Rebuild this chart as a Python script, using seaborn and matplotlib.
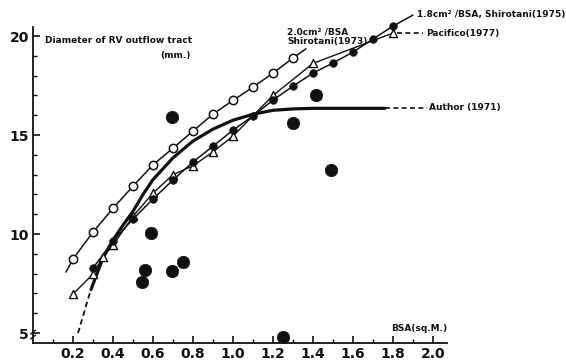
import matplotlib
matplotlib.use("Agg")
import matplotlib.pyplot as plt
import seaborn as sns

# ---- data ----
# 2.0 cm2/BSA, Shirotani (1973) - open circles
shiro73_bsa = [0.2, 0.3, 0.4, 0.5, 0.6, 0.7, 0.8, 0.9, 1.0, 1.1, 1.2, 1.3]
shiro73_d = [8.74, 10.1, 11.3, 12.42, 13.5, 14.34, 15.2, 16.06, 16.75, 17.42, 18.13, 18.89]
shiro73_start = (0.165, 8.08)
shiro73_end = (1.365, 19.36)

# 1.8 cm2/BSA, Shirotani (1975) - small filled circles
shiro75_bsa = [0.3, 0.4, 0.5, 0.6, 0.7, 0.8, 0.9, 1.0, 1.1, 1.2, 1.3, 1.4, 1.5, 1.6, 1.7, 1.8]
shiro75_d = [8.28, 9.65, 10.76, 11.77, 12.73, 13.64, 14.44, 15.25, 15.96, 16.77,
             17.47, 18.13, 18.64, 19.19, 19.85, 20.5]
shiro75_end = (1.9, 21.06)

# Pacifico (1977) - open triangles
pacif_bsa = [0.2, 0.3, 0.35, 0.4, 0.5, 0.6, 0.7, 0.8, 0.9, 1.0, 1.2, 1.4, 1.8]
pacif_d = [6.97, 7.98, 8.84, 9.44, 10.9, 12.07, 13.0, 13.45, 14.15, 14.95, 17.0, 18.62, 20.15]
pacif_tail_x = [1.82, 1.95]
pacif_tail_y = [20.15, 20.15]

# Author (1971) - thick curve
author_bsa = [0.29, 0.32, 0.35, 0.4, 0.45, 0.5, 0.55, 0.6, 0.65, 0.7, 0.8, 0.9,
              1.0, 1.1, 1.2, 1.3, 1.4, 1.76]
author_d = [7.2, 8.0, 8.8, 9.7, 10.45, 11.15, 12.0, 12.75, 13.3, 13.85, 14.7, 15.3,
            15.75, 16.05, 16.25, 16.32, 16.35, 16.35]
author_low_x = [0.225, 0.25, 0.27, 0.29]
author_low_y = [5.0, 5.85, 6.55, 7.2]
author_tail_x = [1.76, 1.97]
author_tail_y = [16.35, 16.35]

# individual patients - large dots
pat_bsa = [0.695, 0.59, 0.56, 0.545, 0.695, 0.75, 1.415, 1.3, 1.49, 1.25]
pat_d = [15.91, 10.07, 8.2, 7.57, 8.14, 8.58, 17.02, 15.6, 13.23, 4.8]

# ---- figure ----
sns.set_style("ticks")
plt.rcParams["font.family"] = ["DejaVu Sans"]
plt.rcParams["font.weight"] = "bold"

fig = plt.figure(figsize=(5.66, 3.6), dpi=100)
ax = fig.add_axes([33 / 566, 17 / 360, 533 / 566, 343 / 360])
ax.set_facecolor("white")
ink = "#111111"

# lines
sns.lineplot(x=[shiro73_start[0]] + shiro73_bsa + [shiro73_end[0]],
             y=[shiro73_start[1]] + shiro73_d + [shiro73_end[1]],
             ax=ax, color=ink, linewidth=1.1, sort=False, estimator=None)
sns.lineplot(x=shiro75_bsa + [shiro75_end[0]], y=shiro75_d + [shiro75_end[1]], ax=ax,
             color=ink, linewidth=1.1, sort=False, estimator=None)
sns.lineplot(x=pacif_bsa, y=pacif_d, ax=ax, color=ink, linewidth=1.0,
             sort=False, estimator=None)
sns.lineplot(x=pacif_tail_x, y=pacif_tail_y, ax=ax, color=ink, linewidth=1.2,
             linestyle=(0, (3, 2)), sort=False, estimator=None)
sns.lineplot(x=author_bsa, y=author_d, ax=ax, color=ink, linewidth=2.3,
             sort=False, estimator=None)
sns.lineplot(x=author_low_x, y=author_low_y, ax=ax, color=ink, linewidth=1.3,
             linestyle=(0, (3, 2)), sort=False, estimator=None)
sns.lineplot(x=author_tail_x, y=author_tail_y, ax=ax, color=ink, linewidth=1.2,
             linestyle=(0, (3, 2)), sort=False, estimator=None)

# markers
sns.scatterplot(x=shiro73_bsa, y=shiro73_d, ax=ax, s=36, color="white",
                edgecolor=ink, linewidth=1.1, zorder=4)
sns.scatterplot(x=pacif_bsa, y=pacif_d, ax=ax, s=34, marker="^", color="white",
                edgecolor=ink, linewidth=1.0, zorder=4)
sns.scatterplot(x=shiro75_bsa, y=shiro75_d, ax=ax, s=30, color=ink,
                edgecolor=ink, linewidth=0.5, zorder=5)
sns.scatterplot(x=pat_bsa, y=pat_d, ax=ax, s=80, color=ink, edgecolor=ink,
                linewidth=0.5, zorder=5, clip_on=False)

# annotations
tkw = dict(fontsize=6.5, fontweight="bold", color=ink, va="center", ha="left")
ax.text(0.06, 19.8, "Diameter of RV outflow tract", **tkw)
ax.text(0.635, 19.04, "(mm.)", **tkw)
ax.text(1.27, 20.2, "2.0cm² /BSA", **tkw)
ax.text(1.27, 19.7, "Shirotani(1973)", **tkw)
ax.text(1.92, 21.08, "1.8cm² /BSA, Shirotani(1975)", **tkw)
ax.text(1.965, 20.15, "Pacifico(1977)", **tkw)
ax.text(1.98, 16.38, "Author (1971)", **tkw)
ax.text(1.79, 5.25, "BSA(sq.M.)", **tkw)

# axes
ax.set_xlim(0, 2.665)
ax.set_ylim(4.5, 21.82)
sns.despine(ax=ax)
ax.spines["bottom"].set_bounds(0, 2.07)
ax.spines["left"].set_bounds(4.5, 20.45)
for sp in ("bottom", "left"):
    ax.spines[sp].set_linewidth(1.3)
    ax.spines[sp].set_color(ink)

ax.set_xticks([0.2, 0.4, 0.6, 0.8, 1.0, 1.2, 1.4, 1.6, 1.8, 2.0])
ax.set_xticks([0.1, 0.3, 0.5, 0.7, 0.9, 1.1, 1.3, 1.5, 1.7, 1.9], minor=True)
ax.set_yticks([5, 10, 15, 20])
ax.set_yticks([6, 7, 8, 9, 11, 12, 13, 14, 16, 17, 18, 19], minor=True)
ax.tick_params(axis="both", which="major", direction="in", length=5, width=1.2,
               colors=ink, labelsize=10)
ax.tick_params(axis="both", which="minor", direction="in", length=3, width=1.0, colors=ink)
ax.tick_params(axis="x", which="major", pad=3)
ax.tick_params(axis="y", which="major", pad=3)
for lab in ax.get_xticklabels() + ax.get_yticklabels():
    lab.set_fontweight("bold")

# small axis break mark near the bottom of the y axis
ax.plot([-0.012, 0.012], [4.95, 5.15], color=ink, lw=1.0, clip_on=False)
ax.plot([-0.012, 0.012], [4.7, 4.9], color=ink, lw=1.0, clip_on=False)

ax.set_xlabel("")
ax.set_ylabel("")
fig.savefig("out.png", dpi=100, facecolor="white")
